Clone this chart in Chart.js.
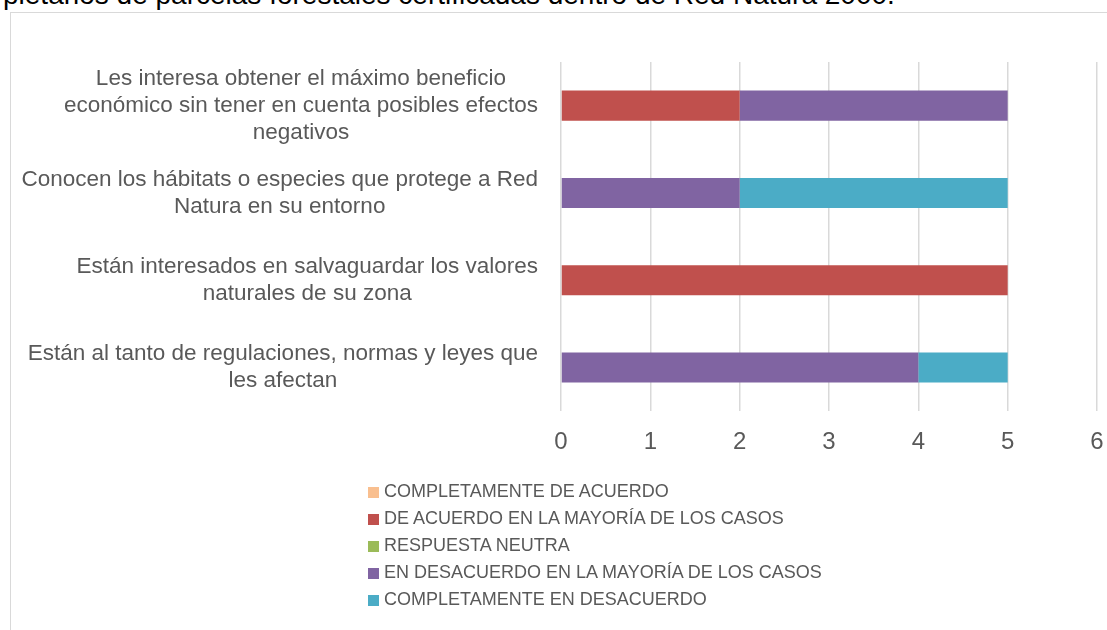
<!DOCTYPE html>
<html>
<head>
<meta charset="utf-8">
<script src="https://cdn.jsdelivr.net/npm/chart.js@4"></script>
<style>
  body { margin: 0; background: #fff; }
  #wrap { position: relative; width: 1107px; height: 630px; overflow: hidden; background: #fff; }
  #caption { position: absolute; left: 3px; top: -19px; font: 28px/28px "Liberation Sans", Arial, sans-serif; color: #000; white-space: nowrap; }
  #frame { position: absolute; left: 10px; top: 12px; width: 1200px; height: 700px; border: 1px solid #d9d9d9; box-sizing: border-box; }
  #chart { position: absolute; left: 0; top: 0; }
  #legend { position: absolute; left: 368px; top: 478px; font: 18px "Liberation Sans", Arial, sans-serif; color: #595959; }
  #legend div { height: 27px; line-height: 27px; white-space: nowrap; }
  #legend span { display: inline-block; width: 11px; height: 11px; margin-right: 5px; vertical-align: -1px; }
</style>
</head>
<body>
<div id="wrap">
  <div id="caption">pietarios de parcelas forestales certificadas dentro de Red Natura 2000.</div>
  <div id="frame"></div>
  <canvas id="chart" width="1107" height="630"></canvas>
  <div id="legend"></div>
</div>
<script>
const categories = [
  ['Les interesa obtener el máximo beneficio', 'económico sin tener en cuenta posibles efectos', 'negativos'],
  ['Conocen los hábitats o especies que protege a Red', 'Natura en su entorno'],
  ['Están interesados en salvaguardar los valores', 'naturales de su zona'],
  ['Están al tanto de regulaciones, normas y leyes que', 'les afectan']
];
const seriesNames = [
  'COMPLETAMENTE DE ACUERDO',
  'DE ACUERDO EN LA MAYORÍA DE LOS CASOS',
  'RESPUESTA NEUTRA',
  'EN DESACUERDO EN LA MAYORÍA DE LOS CASOS',
  'COMPLETAMENTE EN DESACUERDO'
];
const completamenteDeAcuerdo = [0, 0, 0, 0];
const deAcuerdoMayoria = [2, 0, 5, 0];
const respuestaNeutra = [0, 0, 0, 0];
const desacuerdoMayoria = [3, 2, 0, 4];
const completamenteDesacuerdo = [0, 3, 0, 1];
const xTicks = [0, 1, 2, 3, 4, 5, 6];

const colors = ['#F9BF8F', '#C0504D', '#9BBB59', '#8064A2', '#4BACC6'];
const values = [completamenteDeAcuerdo, deAcuerdoMayoria, respuestaNeutra, desacuerdoMayoria, completamenteDesacuerdo];

const textColor = '#595959';
const fontFamily = '"Liberation Sans", Arial, sans-serif';

// category labels: each block right-aligned to the axis, lines centred inside it
const categoryLabels = {
  id: 'categoryLabels',
  afterDraw(chart) {
    const ctx = chart.ctx;
    const yScale = chart.scales.y;
    const right = chart.chartArea.left - 23;
    const lineHeight = 27;
    ctx.save();
    ctx.font = '22.5px ' + fontFamily;
    ctx.fillStyle = textColor;
    ctx.textAlign = 'center';
    ctx.textBaseline = 'middle';
    categories.forEach((lines, i) => {
      const widest = Math.max(...lines.map(l => ctx.measureText(l).width));
      const cx = right - widest / 2;
      const cy = yScale.getPixelForTick(i);
      const top = cy - (lines.length - 1) * lineHeight / 2;
      lines.forEach((l, j) => ctx.fillText(l, cx, top + j * lineHeight));
    });
    ctx.restore();
  }
};

const chart = new Chart(document.getElementById('chart'), {
  type: 'bar',
  data: {
    labels: categories,
    datasets: seriesNames.map((name, i) => ({
      label: name,
      data: values[i],
      backgroundColor: colors[i],
      borderWidth: 0,
      barPercentage: 0.345,
      categoryPercentage: 1
    }))
  },
  options: {
    indexAxis: 'y',
    responsive: false,
    animation: false,
    layout: { padding: { left: 561, right: 10, top: 62, bottom: 156 } },
    scales: {
      x: {
        stacked: true,
        min: 0,
        max: 6,
        afterBuildTicks: axis => { axis.ticks = xTicks.map(v => ({ value: v })); },
        afterFit: axis => { axis.paddingLeft = 0; axis.paddingRight = 0; },
        grid: { color: '#d9d9d9', lineWidth: 1.5, drawTicks: false },
        border: { display: false },
        ticks: { color: textColor, font: { size: 24, family: fontFamily }, padding: 17 }
      },
      y: {
        stacked: true,
        display: false
      }
    },
    plugins: {
      legend: { display: false },
      tooltip: { enabled: false }
    }
  },
  plugins: [categoryLabels]
});

const legend = document.getElementById('legend');
chart.data.datasets.forEach(ds => {
  const row = document.createElement('div');
  const box = document.createElement('span');
  box.style.background = ds.backgroundColor;
  row.appendChild(box);
  row.appendChild(document.createTextNode(ds.label));
  legend.appendChild(row);
});
</script>
</body>
</html>
